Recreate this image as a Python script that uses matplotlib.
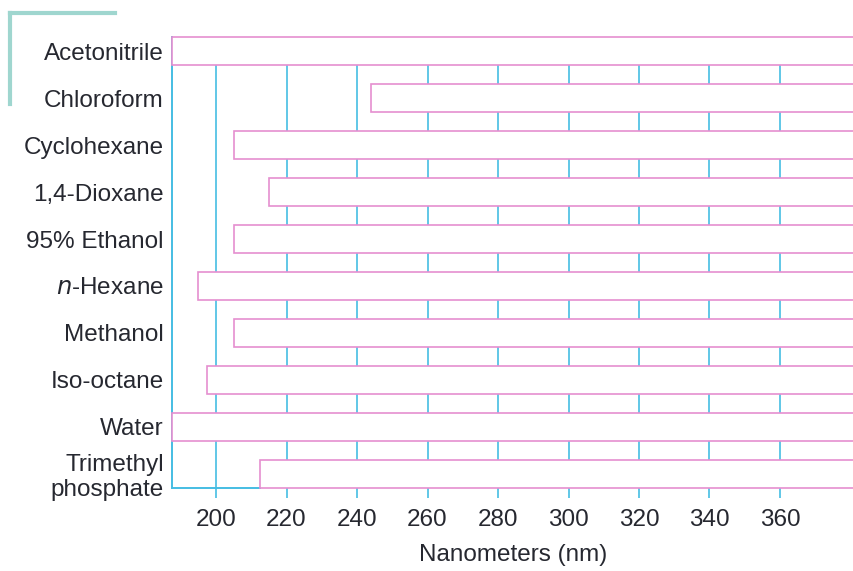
import matplotlib
matplotlib.use("Agg")
import matplotlib.pyplot as plt
from matplotlib.lines import Line2D

# UV cutoff of common solvents (nm)
solvents = ["Acetonitrile", "Chloroform", "Cyclohexane", "1,4-Dioxane", "95% Ethanol",
            "$\\it{n}$-Hexane", "Methanol", "Iso-octane", "Water", "Trimethyl\nphosphate"]
cutoff = [187.5, 244, 205, 215, 205, 195, 205, 197.5, 187.5, 212.5]
ticks = [200, 220, 240, 260, 280, 300, 320, 340, 360]

x_min, x_max = 187.5, 381
pink = "#e58fcf"
blue = "#45bde3"
text_color = "#262830"

plt.rcParams["font.family"] = ["Liberation Sans", "DejaVu Sans"]

fig = plt.figure(figsize=(8.54, 5.71), dpi=100)
ax = fig.add_axes([172 / 854, 83 / 571, 1 - 172 / 854, 451 / 571])

rows = list(range(len(solvents)))
ax.barh(rows, [x_max - c for c in cutoff], left=cutoff, height=0.6,
        color="white", edgecolor=pink, linewidth=1.2, zorder=3, clip_on=False)

ax.set_xlim(x_min, x_max)
ax.set_ylim(len(solvents) - 0.7, -0.3)
ax.set_xticks(ticks)
ax.set_yticks(rows)
ax.set_yticklabels(solvents, fontsize=17.5, color=text_color, ha="right",
                   linespacing=1.15)
ax.tick_params(axis="y", length=0, pad=6)
ax.tick_params(axis="x", direction="out", length=7.2, width=1.2, color=blue,
               labelsize=17.5, labelcolor=text_color, pad=8)
ax.grid(axis="x", color=blue, linewidth=1.2, zorder=1)
ax.set_axisbelow(True)

for side in ["top", "right"]:
    ax.spines[side].set_visible(False)
ax.spines["left"].set_color(blue)
ax.spines["left"].set_linewidth(1.4)
ax.spines["bottom"].set_color(blue)
ax.spines["bottom"].set_linewidth(1.4)
ax.spines["bottom"].set_bounds(x_min, cutoff[-1])

ax.set_xlabel("Nanometers (nm)", fontsize=17.5, color=text_color, labelpad=9)

# teal corner mark from the printed page
fig.add_artist(Line2D([10 / 854, 115 / 854], [1 - 13 / 571, 1 - 13 / 571],
                      color="#9fd6cf", linewidth=3))
fig.add_artist(Line2D([10 / 854, 10 / 854], [1 - 13 / 571, 1 - 104 / 571],
                      color="#9fd6cf", linewidth=3))

fig.savefig("out.png", dpi=100)
